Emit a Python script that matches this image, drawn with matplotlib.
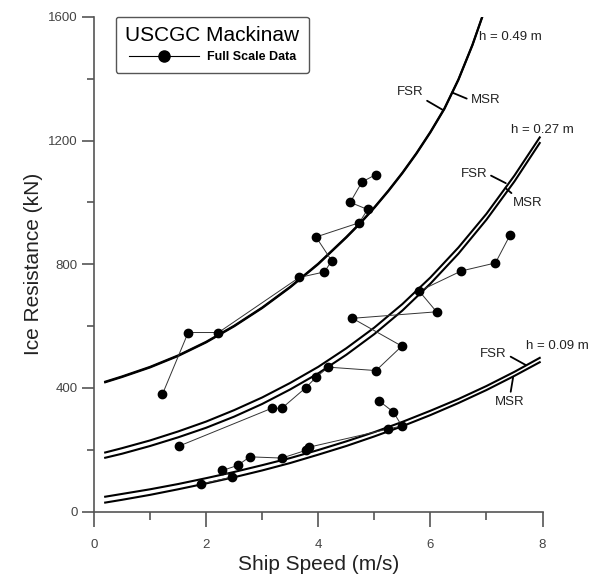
import matplotlib.pyplot as plt
from matplotlib.lines import Line2D

plt.rcParams['font.family'] = ['Liberation Sans', 'DejaVu Sans']

# model curves (FSR / MSR)
top_speed = [0.2, 0.5, 1.0, 1.5, 2.0, 2.5, 3.0, 3.5, 4.0, 4.5, 4.75, 5.0, 5.25, 5.5,
             5.75, 6.0, 6.25, 6.5, 6.75, 7.0]
fsr_049 = [420, 437, 468, 505, 549, 601, 660, 727, 802, 888, 934, 984, 1038, 1096,
           1159, 1228, 1304, 1398, 1510, 1640]
msr_049 = [418, 435, 466, 503, 547, 599, 658, 725, 800, 886, 932, 982, 1036, 1094,
           1157, 1226, 1302, 1396, 1508, 1638]

curve_speed = [0.2, 0.5, 1.0, 1.5, 2.0, 2.5, 3.0, 3.5, 4.0, 4.5, 5.0, 5.5, 6.0, 6.5, 7.0, 7.5, 7.95]
fsr_027 = [191, 205, 230, 259, 291, 328, 369, 416, 468, 528, 595, 671, 757, 854, 963, 1087, 1210]
msr_027 = [174, 187, 212, 240, 271, 307, 348, 395, 447, 507, 574, 650, 737, 834, 944, 1068, 1192]
fsr_009 = [48, 57, 72, 89, 108, 128, 150, 173, 199, 227, 257, 290, 326, 364, 406, 452, 497]
msr_009 = [29, 38, 54, 72, 91, 111, 133, 157, 184, 212, 243, 276, 312, 351, 393, 439, 483]

# full scale data (three trial runs)
run1_speed = [1.22, 1.68, 2.22, 3.66, 4.11, 4.24, 3.96, 4.73, 4.88, 4.57, 4.78, 5.03]
run1_res = [379, 579, 579, 757, 775, 811, 888, 934, 977, 1000, 1066, 1090]
run2_speed = [1.52, 3.17, 3.35, 3.78, 3.96, 4.18, 5.03, 5.49, 4.61, 6.11, 5.80, 6.55, 7.16, 7.42]
run2_res = [212, 334, 334, 401, 434, 467, 456, 535, 625, 646, 713, 778, 804, 894]
run3_speed = [1.91, 2.47, 2.29, 2.56, 2.78, 3.35, 3.78, 3.83, 5.25, 5.49, 5.34, 5.09]
run3_res = [89, 112, 133, 149, 177, 173, 198, 208, 267, 277, 322, 357]

fig = plt.figure(figsize=(5.91, 5.80), dpi=100)
ax = fig.add_axes([0.159, 0.118, 0.759, 0.853])

ax.plot(top_speed, fsr_049, color='black', lw=1.5)
ax.plot(top_speed, msr_049, color='black', lw=1.5)
for fsr, msr in [(fsr_027, msr_027), (fsr_009, msr_009)]:
    ax.plot(curve_speed, fsr, color='black', lw=1.5)
    ax.plot(curve_speed, msr, color='black', lw=1.5)

for sp, rs in [(run1_speed, run1_res), (run2_speed, run2_res), (run3_speed, run3_res)]:
    ax.plot(sp, rs, color='#333333', lw=0.7, marker='o', ms=6,
            mfc='black', mec='black')

# curve labels
lab = dict(fontsize=9.5, color='#222222')
ax.text(6.86, 1534, 'h = 0.49 m', ha='left', va='center', **lab)
ax.text(7.43, 1233, 'h = 0.27 m', ha='left', va='center', **lab)
ax.text(7.70, 535, 'h = 0.09 m', ha='left', va='center', **lab)

def tag(text, xy, xytext, ha, va, relpos):
    ax.annotate(text, xy=xy, xytext=xytext, ha=ha, va=va, **lab,
                arrowprops=dict(arrowstyle='-', lw=1.3, color='black',
                                relpos=relpos, shrinkA=1, shrinkB=0))

tag('FSR', (6.23, 1298), (5.87, 1336), 'right', 'bottom', (1, 0))
tag('MSR', (6.39, 1355), (6.72, 1330), 'left', 'center', (0, 0.5))
tag('FSR', (7.345, 1062), (7.01, 1093), 'right', 'center', (1, 0.5))
tag('MSR', (7.34, 1046), (7.47, 1018), 'left', 'top', (0.1, 1))
tag('FSR', (7.70, 474), (7.36, 508), 'right', 'center', (1, 0.5))
tag('MSR', (7.475, 434), (7.42, 374), 'center', 'top', (0.5, 1))

ax.set_xlim(0, 8)
ax.set_ylim(0, 1600)
ax.set_xticks([0, 2, 4, 6, 8])
ax.set_xticks([1, 3, 5, 7], minor=True)
ax.set_yticks([0, 400, 800, 1200, 1600])
ax.set_yticks([200, 600, 1000, 1400], minor=True)

for s in ['top', 'right']:
    ax.spines[s].set_visible(False)
for s in ['left', 'bottom']:
    ax.spines[s].set_color('#555555')
    ax.spines[s].set_linewidth(1.2)

ax.tick_params(axis='x', which='major', direction='out', length=11, width=1.2,
               color='#555555', labelsize=9.5, labelcolor='#444444', pad=8.5)
ax.tick_params(axis='x', which='minor', direction='out', length=5.5, width=1.2,
               color='#555555')
ax.tick_params(axis='y', which='major', direction='out', length=9, width=1.2,
               color='#555555', labelsize=9.5, labelcolor='#444444', pad=2.5)
ax.tick_params(axis='y', which='minor', direction='out', length=5, width=1.2,
               color='#555555')

ax.set_xlabel('Ship Speed (m/s)', fontsize=15, color='#222222', labelpad=3)
ax.set_ylabel('Ice Resistance (kN)', fontsize=15, color='#222222', labelpad=4)

handle = Line2D([], [], color='black', lw=0.8, marker='o', ms=8, mfc='black')
leg = ax.legend(handles=[handle], labels=['Full Scale Data'], title='USCGC Mackinaw',
                loc='upper left', bbox_to_anchor=(0.049, 1.0), borderaxespad=0,
                frameon=True, fancybox=True, framealpha=1, edgecolor='#555555',
                handlelength=5.6, handletextpad=0.6, borderpad=0.75,
                prop={'size': 9, 'weight': 'bold'}, title_fontsize=15)
leg.get_frame().set_linewidth(1.0)

fig.savefig('out.png', dpi=100)
